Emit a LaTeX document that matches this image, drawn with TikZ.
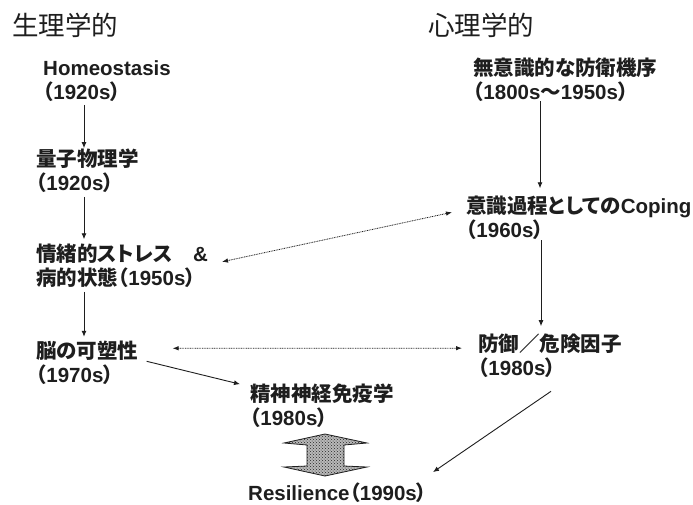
\documentclass[tikz,border=0pt]{standalone}
\usepackage{fontspec}
\setmainfont{Liberation Sans}
\newfontfamily\jp{Noto Sans CJK JP}[RawFeature=+palt]
\usetikzlibrary{arrows.meta,patterns}
\definecolor{ink}{RGB}{30,30,30}
\tikzset{
  lbl/.style={inner sep=0pt, align=left, anchor=base west, text=ink,
    font=\fontsize{20.5}{24}\selectfont\bfseries},
  head/.style={inner sep=0pt, anchor=base west, text=ink,
    font=\fontsize{26.5}{30}\selectfont\jp},
  arr/.style={draw=ink, line width=0.9pt, -{Latex[length=6pt,width=5pt]}},
  darr/.style={draw=ink, line width=0.8pt, dash pattern=on 0.9pt off 0.8pt,
    {Latex[length=6pt,width=4.5pt]}-{Latex[length=6pt,width=4.5pt]}},
}
\begin{document}
\begin{tikzpicture}[x=1pt,y=-1pt]
\useasboundingbox (0,0) rectangle (693,504);
\fill[white] (0,0) rectangle (693,504);
% headings
\node[head] (hphys) at (12,35) {生理学的};
\node[head] (hpsy) at (428,35) {心理学的};
% left column (anchor = baseline of last line)
\node[lbl] (homeo) at (43,99.5) {Homeostasis\\{\jp （}1920s{\jp ）}};
\node[lbl] (ryoshi) at (36,190) {{\jp 量子物理学}\\{\jp （}1920s{\jp ）}};
\node[lbl] (jocho) at (36,285) {{\jp 情緒的ストレス　}\&\\{\jp 病的状態（}1950s{\jp ）}};
\node[lbl] (nou) at (36,382) {{\jp 脳の可塑性}\\{\jp （}1970s{\jp ）}};
\node[lbl] (seishin) at (250,425) {{\jp 精神神経免疫学}\\{\jp （}1980s{\jp ）}};
\node[lbl] (resil) at (248,500) {Resilience{\jp （}1990s{\jp ）}};
% right column
\node[lbl] (muishiki) at (473,99) {{\jp 無意識的な防衛機序}\\{\jp （}1800s{\jp 〜}1950s{\jp ）}};
\node[lbl] (coping) at (466,237) {{\jp 意識過程としての}Coping\\{\jp （}1960s{\jp ）}};
\node[lbl] (bogyo) at (478,375) {{\jp 防御／危険因子}\\{\jp （}1980s{\jp ）}};
% solid arrows
\draw[arr, shorten <=3pt, shorten >=0pt] (homeo.south -| 84,0) -- (ryoshi.north -| 84,0);
\draw[arr, shorten <=4.5pt, shorten >=4pt] (ryoshi.south -| 84,0) -- (jocho.north -| 84,0);
\draw[arr, shorten <=4.5pt, shorten >=3.5pt] (jocho.south -| 84,0) -- (nou.north -| 84,0);
\draw[arr, shorten <=0pt, shorten >=7pt] (muishiki.south -| 540,0) -- (coping.north -| 540,0);
\draw[arr, shorten <=1pt, shorten >=7pt] (coping.south -| 541,0) -- (bogyo.north -| 541,0);
\draw[arr] ([shift={(8,21)}]nou.north east) -- ([shift={(-10,1)}]seishin.north west);
\draw[arr] ([shift={(73,14)}]bogyo.south west) -- ([shift={(185,-10)}]resil.north west);
% dotted double arrows
\draw[darr] ([shift={(14,-3.5)}]jocho.east) -- ([shift={(-14,-5)}]coping.west);
\draw[darr] ([shift={(34,8)}]nou.north east) -- ([shift={(-16,15)}]bogyo.north west);
% double block arrow
\path[fill=gray!55, draw=ink, line width=0.8pt]
  (325,434) -- (367,443) -- (344,445) -- (344,466) -- (367,467) -- (325,476)
  -- (284,467) -- (307,466) -- (307,445) -- (284,443) -- cycle;
\path[pattern=crosshatch dots, pattern color=gray!30!black]
  (325,434) -- (367,443) -- (344,445) -- (344,466) -- (367,467) -- (325,476)
  -- (284,467) -- (307,466) -- (307,445) -- (284,443) -- cycle;
\end{tikzpicture}
\end{document}
